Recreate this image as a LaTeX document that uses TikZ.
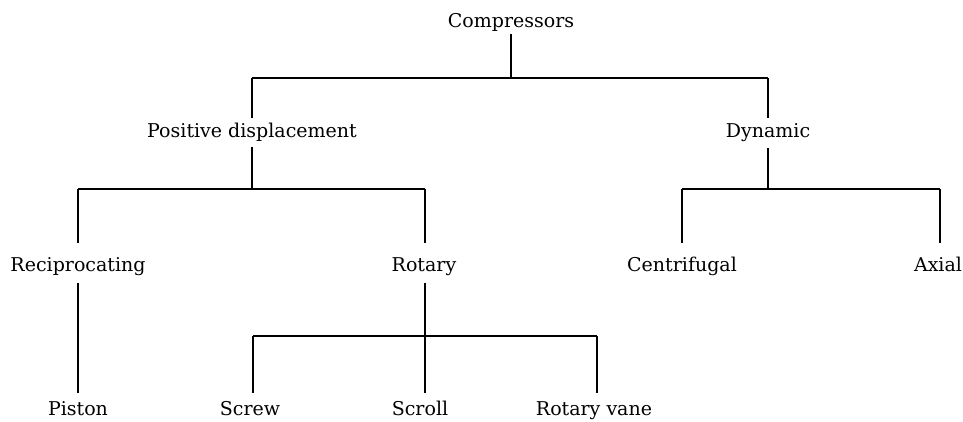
\documentclass[tikz,border=0pt]{standalone}
\usepackage{fontspec}
\setmainfont{DejaVu Serif}
\usetikzlibrary{calc}
\begin{document}
\begin{tikzpicture}[x=1pt,y=-1pt,
  lbl/.style={inner sep=0pt, anchor=base, text height=13pt, text depth=4pt,
    font=\fontsize{19}{22}\selectfont},
  conn/.style={line width=1.1pt, black}]
\useasboundingbox[fill=white] (0,0) rectangle (963,421);
% nodes
\node[lbl] (comp) at (511,27) {Compressors};
\node[lbl] (pd)   at (252,137) {Positive displacement};
\node[lbl] (dyn)  at (768,137) {Dynamic};
\node[lbl] (rec)  at (78,271)  {Reciprocating};
\node[lbl] (rot)  at (424,271) {Rotary};
\node[lbl] (cen)  at (682,271) {Centrifugal};
\node[lbl] (ax)   at (938,271) {Axial};
\node[lbl] (pis)  at (78,415)  {Piston};
\node[lbl] (scw)  at (250,415) {Screw};
\node[lbl] (scl)  at (420,415) {Scroll};
\node[lbl] (rv)   at (594,415) {Rotary vane};
% junction coordinates
\coordinate (j0) at (511,78);
\coordinate (j0L) at (252,78);
\coordinate (j0R) at (768,78);
\coordinate (j1) at (252,189);
\coordinate (j1L) at (78,189);
\coordinate (j1R) at (425,189);
\coordinate (j2) at (768,189);
\coordinate (j2L) at (682,189);
\coordinate (j2R) at (940,189);
\coordinate (j3L) at (253,336);
\coordinate (j3R) at (597,336);
% connectors
\draw[conn] ($(comp.south)+(0,3)$) -- (j0);
\draw[conn] (j0L) -- (j0R);
\draw[conn] (j0L) -- ($(j0L |- pd.north)+(0,-6)$);
\draw[conn] (j0R) -- ($(j0R |- dyn.north)+(0,-6)$);
\draw[conn] ($(pd.south)+(0,6)$) -- (j1);
\draw[conn] (j1L) -- (j1R);
\draw[conn] (j1L) -- ($(j1L |- rec.north)+(0,-15)$);
\draw[conn] (j1R) -- ($(j1R |- rot.north)+(0,-15)$);
\draw[conn] ($(dyn.south)+(0,7)$) -- (j2);
\draw[conn] (j2L) -- (j2R);
\draw[conn] (j2L) -- ($(j2L |- cen.north)+(0,-15)$);
\draw[conn] (j2R) -- ($(j2R |- ax.north)+(0,-15)$);
\draw[conn] ($(rec.south)+(0,8)$) -- ($(rec.south |- pis.north)+(0,-9)$);
\draw[conn] ($(j1R |- rot.south)+(0,8)$) -- ($(j1R |- scl.north)+(0,-9)$);
\draw[conn] (j3L) -- (j3R);
\draw[conn] (j3L) -- ($(j3L |- scw.north)+(0,-9)$);
\draw[conn] (j3R) -- ($(j3R |- rv.north)+(0,-9)$);
\end{tikzpicture}
\end{document}
